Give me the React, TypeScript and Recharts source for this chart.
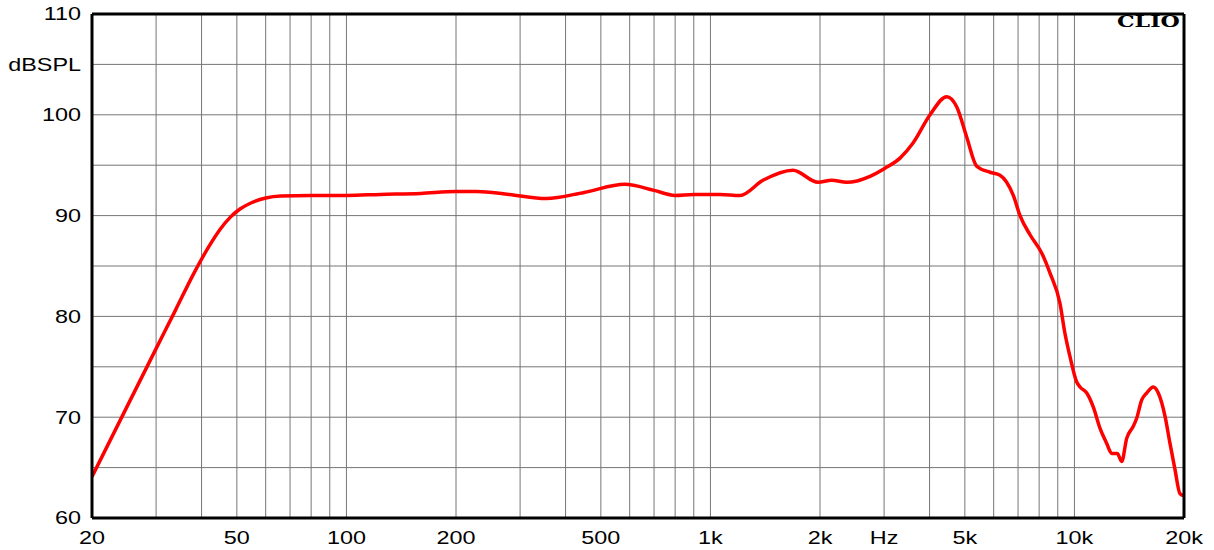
import React from 'react';
import { LineChart, Line, XAxis, YAxis, ReferenceLine } from 'recharts';

// frequency response (Hz / dBSPL)
const FREQS = [
  20, 25, 30, 34, 38, 42, 45, 48, 51, 55, 60, 66, 80, 100, 124, 160,
  200, 228, 280, 354, 450, 582, 700, 799, 900, 1063, 1206, 1394, 1686, 1975, 2154, 2368,
  2745, 3018, 3318, 3603, 4012, 4458, 4748, 5058, 5391, 5862, 6246, 6793, 7088, 7551,
  8128, 8569, 9126, 9420, 9724, 10146, 10362, 10810, 11270, 11758, 12266, 12663, 13118,
  13487, 13918, 14510, 14826, 15301, 15794, 16470, 17000, 17736, 18304, 18894, 19500, 20000,
];
const SPL = [
  64.1, 71.1, 76.8, 80.7, 84.2, 87.0, 88.65, 89.85, 90.65, 91.3, 91.75, 91.95, 92.0, 92.0, 92.1, 92.2,
  92.4, 92.4, 92.1, 91.7, 92.3, 93.1, 92.5, 92.0, 92.1, 92.1, 92.0, 93.5, 94.5, 93.3, 93.5, 93.3,
  93.9, 94.7, 95.7, 97.2, 100.0, 101.8, 100.8, 97.8, 94.9, 94.3, 94.0, 92.0, 90.0, 88.1,
  86.3, 84.3, 81.3, 78.3, 76.0, 73.5, 73.0, 72.4, 71.0, 68.9, 67.4, 66.4, 66.4,
  65.6, 67.9, 69.1, 69.9, 71.7, 72.4, 73.0, 72.4, 70.1, 67.4, 64.8, 62.4, 62.2,
];

const X_TICKS = [20, 50, 100, 200, 500, 1000, 2000, 3000, 5000, 10000, 20000];
const X_LABELS = ['20', '50', '100', '200', '500', '1k', '2k', 'Hz', '5k', '10k', '20k'];
const Y_TICKS = [60, 70, 80, 90, 100, 105, 110];
const Y_MINOR = Array.from({ length: 51 }, (_, i) => 60 + i);
const H_GRID = [65, 70, 75, 80, 85, 90, 95, 100, 105];
const V_GRID = [
  30, 40, 50, 60, 70, 80, 90, 100, 200, 300, 400, 500, 600, 700, 800, 900,
  1000, 2000, 3000, 4000, 5000, 6000, 7000, 8000, 9000, 10000,
];

const data = FREQS.map((f, i) => ({ f, spl: SPL[i] }));

const FONT = '"Liberation Sans", Arial, sans-serif';
const GRID = '#767676';

const XTick = (props: any) => {
  const { x, y, payload } = props;
  const idx = X_TICKS.indexOf(payload.value);
  return (
    <g transform={`translate(${x},${y})`}>
      <text transform="scale(1.3,1)" textAnchor="middle" y={18} fontSize={18} fontFamily={FONT} fill="#000">
        {X_LABELS[idx]}
      </text>
    </g>
  );
};

const YTick = (props: any) => {
  const { x, y, payload } = props;
  const label = payload.value === 105 ? 'dBSPL' : String(payload.value);
  return (
    <g transform={`translate(${x},${y})`}>
      <text transform="scale(1.3,1)" textAnchor="end" dy="0.36em" fontSize={18} fontFamily={FONT} fill="#000">
        {label}
      </text>
    </g>
  );
};

export default function App() {
  return (
    <div style={{ position: 'absolute', left: 0, top: 0, width: 1214, height: 550, background: '#fff' }}>
      <LineChart width={1214} height={550} data={data} margin={{ top: 14, right: 30, bottom: 0, left: 32 }}>
        <XAxis
          dataKey="f"
          type="number"
          scale="log"
          domain={[20, 20000]}
          ticks={X_TICKS}
          interval={0}
          height={32}
          axisLine={false}
          tickLine={false}
          tick={<XTick />}
          allowDataOverflow
        />
        <YAxis
          type="number"
          domain={[60, 110]}
          ticks={Y_TICKS}
          interval={0}
          width={60}
          tickMargin={5}
          axisLine={false}
          tickLine={false}
          tick={<YTick />}
          allowDataOverflow
        />
        <YAxis
          yAxisId="minorL"
          type="number"
          domain={[60, 110]}
          ticks={Y_MINOR}
          interval={0}
          mirror
          width={0}
          axisLine={false}
          tick={false}
          tickSize={6}
          tickLine={{ stroke: '#444' }}
        />
        <YAxis
          yAxisId="minorR"
          orientation="right"
          type="number"
          domain={[60, 110]}
          ticks={Y_MINOR}
          interval={0}
          mirror
          width={0}
          axisLine={false}
          tick={false}
          tickSize={6}
          tickLine={{ stroke: '#444' }}
        />
        {H_GRID.map((v) => (
          <ReferenceLine key={'h' + v} y={v} stroke={GRID} strokeWidth={1} />
        ))}
        {V_GRID.map((v) => (
          <ReferenceLine key={'v' + v} x={v} stroke={GRID} strokeWidth={1} />
        ))}
        <Line
          type="monotone"
          dataKey="spl"
          stroke="#ff0000"
          strokeWidth={3.5}
          dot={false}
          isAnimationActive={false}
        />
        <ReferenceLine y={60} stroke="#000" strokeWidth={3} />
        <ReferenceLine y={110} stroke="#000" strokeWidth={3} />
        <ReferenceLine x={20} stroke="#000" strokeWidth={3} />
        <ReferenceLine x={20000} stroke="#000" strokeWidth={3} />
      </LineChart>
      <div
        style={{
          position: 'absolute',
          left: 1117,
          top: 11,
          fontFamily: '"DejaVu Serif", "Liberation Serif", serif',
          fontWeight: 'bold',
          fontSize: 17,
          lineHeight: '20px',
          transform: 'scaleX(1.3)',
          transformOrigin: 'left top',
          color: '#000',
        }}
      >
        CLIO
      </div>
    </div>
  );
}
